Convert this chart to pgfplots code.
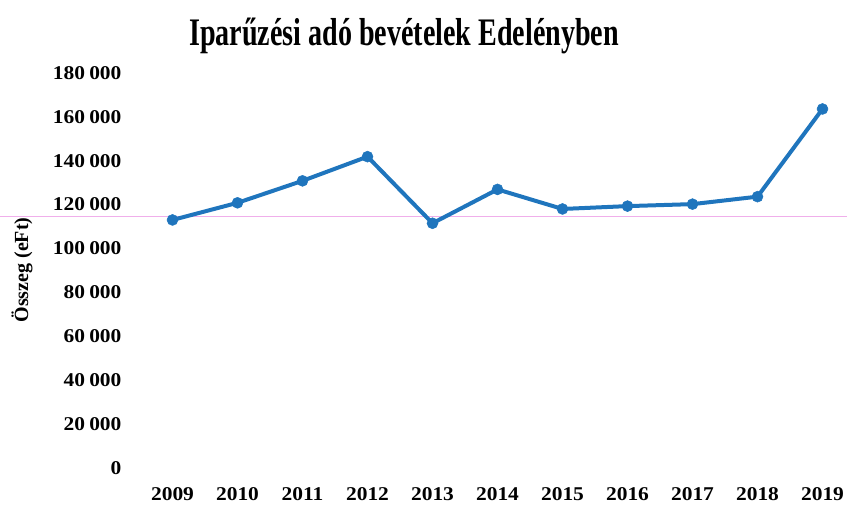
\documentclass[border=0pt]{standalone}
\usepackage{fontspec}
\setmainfont{Liberation Serif}
\newfontfamily\tickfont{Liberation Serif}[FakeStretch=1.1]
\newfontfamily\titlefont{Liberation Serif}[FakeStretch=0.72]
\usepackage{pgfplots}
\pgfplotsset{compat=1.18}
\definecolor{lineblue}{RGB}{31,117,189}
\definecolor{scanpink}{RGB}{240,175,235}
\newcommand{\ts}{\hspace{0.22em}}
\begin{document}
\begin{tikzpicture}[x=1pt,y=1pt]
\useasboundingbox (0,0) rectangle (847,-507);
\draw[scanpink, line width=0.8pt] (0,-216.5) -- (847,-216.5);
\begin{axis}[
  at={(140pt,-468.3pt)}, anchor=south west,
  scale only axis, width=708.5pt, height=395.6pt,
  xmin=2008.5, xmax=2019.4, ymin=0, ymax=180000,
  axis line style={draw=none},
  major tick length=0pt,
  scaled x ticks=false, scaled y ticks=false,
  xtick={2009,2010,2011,2012,2013,2014,2015,2016,2017,2018,2019},
  xticklabels={2009,2010,2011,2012,2013,2014,2015,2016,2017,2018,2019},
  ytick={0,20000,40000,60000,80000,100000,120000,140000,160000,180000},
  yticklabels={0,20\ts000,40\ts000,60\ts000,80\ts000,100\ts000,120\ts000,140\ts000,160\ts000,180\ts000},
  tick label style={font=\tickfont\bfseries\fontsize{19.5}{20}\selectfont},
  xticklabel style={yshift=-16pt},
  yticklabel style={xshift=-15pt},
  clip=false,
]
\addplot[lineblue, line width=4pt, mark=*, mark size=5.5pt,
  mark options={fill=lineblue, draw=lineblue, line width=0.5pt}]
  coordinates {
  (2009,113000) (2010,120800) (2011,130800) (2012,141800) (2013,111500)
  (2014,126900) (2015,118000) (2016,119300) (2017,120200) (2018,123600)
  (2019,163500)
  };
\end{axis}
\node[font=\titlefont\bfseries\fontsize{39}{40}\selectfont, anchor=base] at (404,-45) {Iparűzési adó bevételek Edelényben};
\node[rotate=90, font=\bfseries\fontsize{20}{22}\selectfont] at (22,-270) {Összeg (eFt)};
\end{tikzpicture}
\end{document}
